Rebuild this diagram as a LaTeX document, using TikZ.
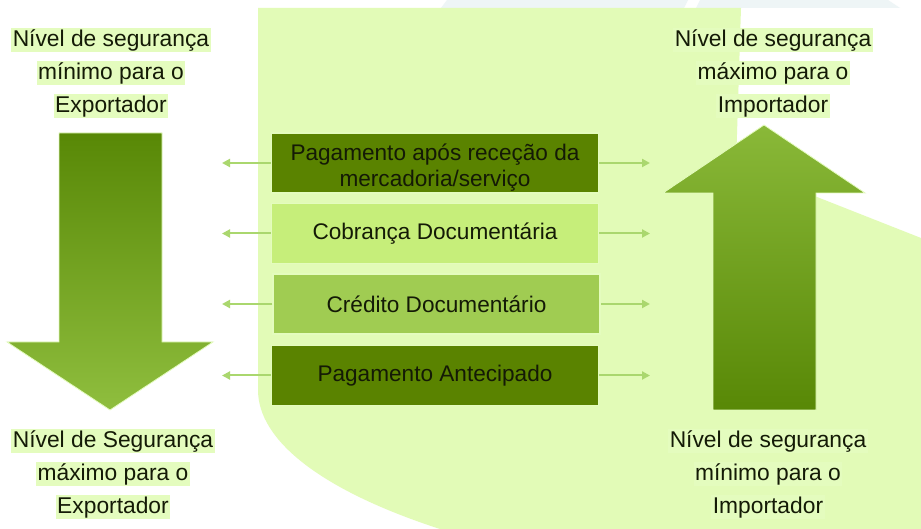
\documentclass[tikz,border=0pt]{standalone}
\usepackage{fontspec}
\setmainfont{Liberation Sans}
\usetikzlibrary{arrows.meta}
\definecolor{pale}{RGB}{226,251,183}
\definecolor{glowc}{RGB}{228,252,190}
\definecolor{strip}{RGB}{238,245,246}
\definecolor{darkbox}{RGB}{90,131,0}
\definecolor{lightbox}{RGB}{198,238,122}
\definecolor{midbox}{RGB}{160,204,82}
\definecolor{conn}{RGB}{170,215,110}
\definecolor{txt}{RGB}{20,26,6}
\definecolor{arrdark}{RGB}{88,136,6}
\definecolor{arrlight}{RGB}{143,190,62}
\newcommand\glowline[1]{{\setlength\fboxsep{1.5pt}\colorbox{glowc}{#1}}}
\tikzset{
  optbox/.style={draw=glowc, line width=1.5pt, minimum width=327pt, minimum height=60pt,
    inner sep=0pt, align=center, text=txt, font=\fontsize{22.6}{26}\selectfont},
  sidelabel/.style={align=center, text=txt, inner sep=0pt, font=\fontsize{22.8}{33}\selectfont},
  connector/.style={draw=conn, line width=2pt, -{Triangle[length=8pt,width=8pt]}}
}
\begin{document}
\begin{tikzpicture}[x=1pt,y=1pt]
\useasboundingbox (0,0) rectangle (921,529);
\fill[white] (0,0) rectangle (921,529);
% top faint strips
\fill[strip] (447,529) -- (688,529) -- (684,521) -- (441,521) -- cycle;
\fill[strip] (700,529) -- (888,529) -- (900,521) -- (696,521) -- cycle;
% pale green background shape
\fill[pale] (258,521) -- (741,521) -- (735,332) -- (817,332) -- (921,291) -- (921,0) -- (440,0)
  .. controls (320,39) and (258,89) .. (258,139) -- cycle;
% down arrow (exporter)
\shade[top color=arrdark, bottom color=arrlight, draw=glowc, line width=0.8pt]
  (59,396) -- (162,396) -- (162,187) -- (213,187) -- (110,119) -- (7,187) -- (59,187) -- cycle;
% up arrow (importer)
\shade[top color=arrlight!90!arrdark, bottom color=arrdark, draw=glowc, line width=0.8pt]
  (764,404) -- (865,336) -- (816,336) -- (816,119) -- (713,119) -- (713,336) -- (663,336) -- cycle;
% option boxes
\node[optbox, fill=darkbox] (b1) at (435,366) {\raisebox{-10pt}[0pt][0pt]{\parbox{327pt}{\centering Pagamento após receção da\\mercadoria/serviço}}};
\node[optbox, fill=lightbox] (b2) at (435,295.5) {\raisebox{-1.5pt}{Cobrança Documentária}};
\node[optbox, fill=midbox] (b3) at (436.5,225) {\raisebox{-1pt}{Crédito Documentário}};
\node[optbox, fill=darkbox] (b4) at (435,153.5) {\raisebox{-1pt}{Pagamento Antecipado}};
% connector end points
\coordinate (l1) at (222,366);
\coordinate (l2) at (222,295.5);
\coordinate (l3) at (222,225);
\coordinate (l4) at (222,153.5);
\coordinate (r1) at (650,366);
\coordinate (r2) at (650,295.5);
\coordinate (r3) at (650,225);
\coordinate (r4) at (650,153.5);
\foreach \i in {1,2,3,4}{
  \draw[connector] (b\i.west) -- (l\i);
  \draw[connector] (b\i.east) -- (r\i);
}
% side labels
\node[sidelabel] (tl) at (111,456) {\glowline{Nível de segurança}\\\glowline{mínimo para o}\\\glowline{Exportador}};
\node[sidelabel] (bl) at (113,55) {\glowline{Nível de Segurança}\\\glowline{máximo para o}\\\glowline{Exportador}};
\node[sidelabel] (tr) at (773,456) {\glowline{Nível de segurança}\\\glowline{máximo para o}\\\glowline{Importador}};
\node[sidelabel] (br) at (768,55) {\glowline{Nível de segurança}\\\glowline{mínimo para o}\\\glowline{Importador}};
\end{tikzpicture}
\end{document}
